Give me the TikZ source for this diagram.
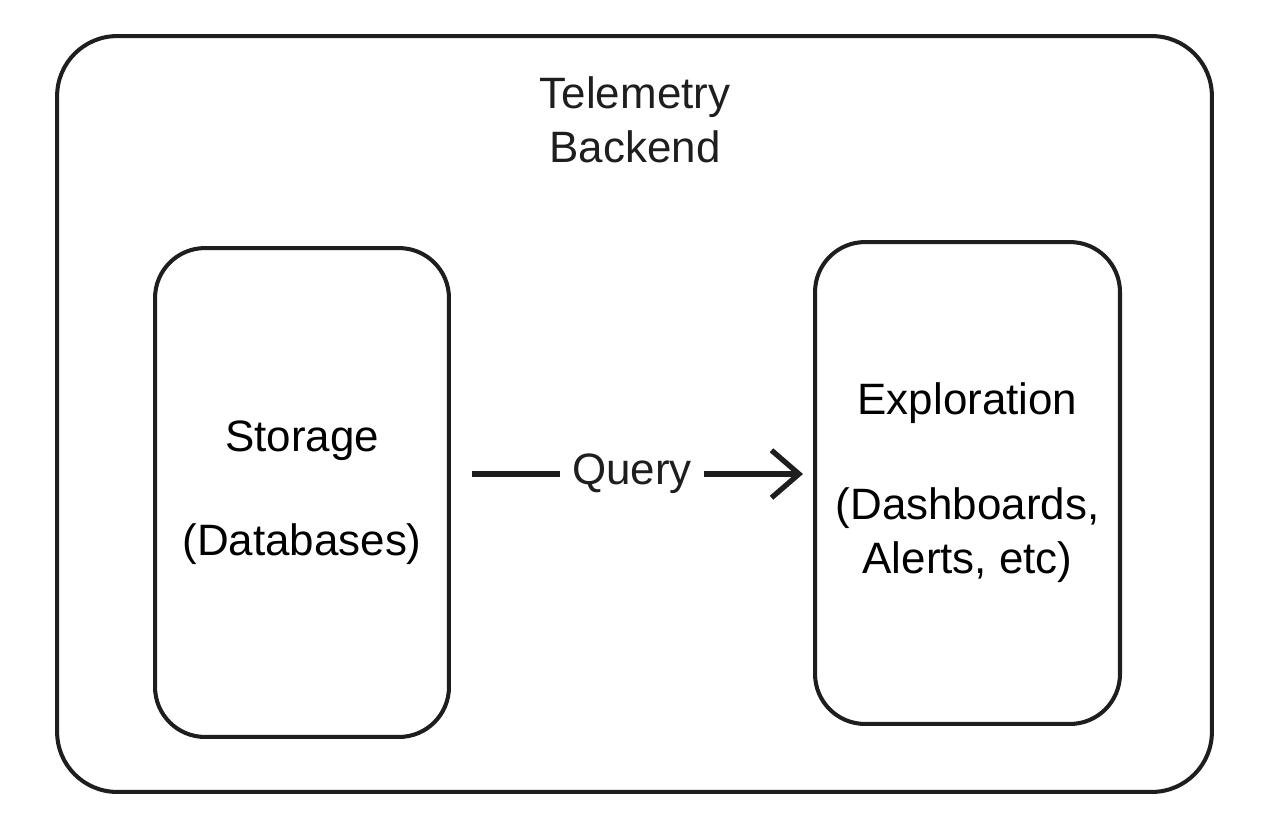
\documentclass[tikz,border=0pt]{standalone}
\usepackage{fontspec}
\setmainfont{Liberation Sans}
\usepackage{tikz}
\usetikzlibrary{arrows.meta}

\definecolor{ink}{HTML}{1E1E1E}
\tikzset{
	box/.style={draw=ink,line width=2.3pt,rounded corners=1cm,align=center,font=\fontsize{25}{31}\selectfont},
	lbl/.style={text=ink,align=center,font=\fontsize{25}{31}\selectfont}
}

\begin{document}
\begin{tikzpicture}[x=0.02cm,y=-0.02cm,>={Straight Barb[length=0.55cm,width=0.95cm,line width=3pt]}]
	  \useasboundingbox (0,0) rectangle (1270,836);
	  \node[box,rounded corners=1.2cm,minimum width=23.1cm,minimum height=15.12cm] (backend) at (634.5,414) {};
	  \node[lbl] (title) at (635,120) {Telemetry\\Backend};
	  \node[box,minimum width=5.88cm,minimum height=9.78cm] (storage) at (302,492.5) {Storage\\[1cm](Databases)};
	  \node[box,minimum width=6.1cm,minimum height=9.64cm] (explore) at (967.5,483) {Exploration\\[1cm](Dashboards,\\Alerts, etc)};
	  \draw[->,draw=ink,line width=3.4pt,shorten <=0.42cm,shorten >=0.2cm] (storage.east |- 0,474) -- (explore.west |- 0,474) node[lbl,midway,fill=white,inner sep=0.25cm] (query) {Query};
	\end{tikzpicture}
\end{document}
